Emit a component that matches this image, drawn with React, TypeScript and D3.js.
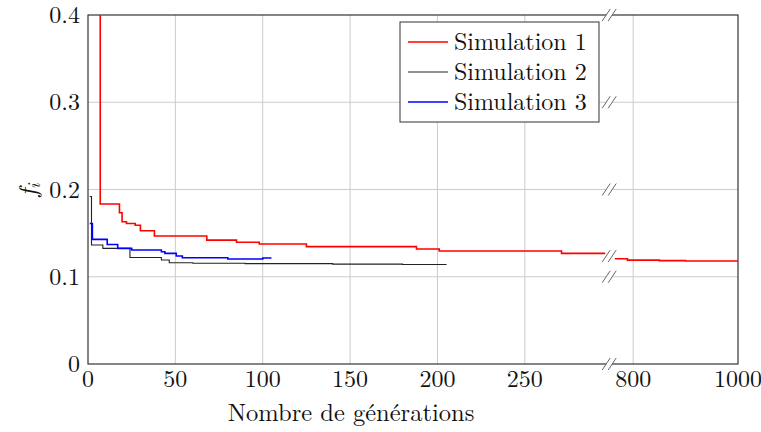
import React from "react";
import * as d3 from "d3";

const W = 761;
const H = 432;

// x axis with break: [0,300] then [760,1000]
const xBreakLo = 300;
const xBreakHi = 760;
const xTicks = [0, 50, 100, 150, 200, 250, 800, 1000];
const yTicks = [0, 0.1, 0.2, 0.3, 0.4];
const yTickLabels = ["0", "0.1", "0.2", "0.3", "0.4"];

const seriesNames = ["Simulation 1", "Simulation 2", "Simulation 3"];
const seriesColors = ["#ff0000", "#222222", "#0000ff"];
const seriesWidths = [1.6, 1.1, 1.6];

// Simulation 1, before the axis break
const sim1LeftGen = [7, 7, 18, 19.5, 22, 27, 30, 38, 68, 85, 98, 125, 188, 201, 271, 296];
const sim1LeftVal = [0.5, 0.1834, 0.1734, 0.163, 0.161, 0.159, 0.1528, 0.1467, 0.142, 0.1395, 0.1375, 0.1345, 0.1318, 0.1295, 0.1268, 0.1268];
// Simulation 1, after the axis break
const sim1RightGen = [765, 789, 850, 900, 1000];
const sim1RightVal = [0.1206, 0.119, 0.1185, 0.118, 0.1177];

const sim2Gen = [1, 2, 8.5, 24, 42, 46.5, 60, 90, 140, 180, 205];
const sim2Val = [0.192, 0.1364, 0.1325, 0.122, 0.1192, 0.1161, 0.1155, 0.115, 0.1145, 0.114, 0.1138];

const sim3Gen = [1, 2.5, 11, 17, 25, 42, 44, 50.5, 54, 80, 100, 105];
const sim3Val = [0.161, 0.1428, 0.137, 0.1325, 0.1307, 0.1287, 0.1268, 0.1238, 0.1218, 0.1203, 0.1215, 0.1215];

const FONT = "Latin Modern Roman, Liberation Serif, serif";

export default function App() {
  const left = 88, right = 738, top = 15, bottom = 364;
  const leftWidth = (right - left) * (300 / 372);
  const xs = d3
    .scaleLinear()
    .domain([0, xBreakLo, xBreakHi, 1000])
    .range([left, left + leftWidth, left + leftWidth, right]);
  const ys = d3.scaleLinear().domain([0, 0.4]).range([bottom, top]);
  const breakX = left + leftWidth - 3;

  const zip = (g: number[], v: number[]) => g.map((x, i) => [x, v[i]] as [number, number]);
  const line = d3
    .line<[number, number]>()
    .x((d) => xs(d[0]))
    .y((d) => ys(d[1]))
    .curve(d3.curveStepAfter);

  const paths = [
    { d: line(zip(sim1LeftGen, sim1LeftVal)), s: 0 },
    { d: line(zip(sim1RightGen, sim1RightVal)), s: 0 },
    { d: line(zip(sim2Gen, sim2Val)), s: 1 },
    { d: line(zip(sim3Gen, sim3Val)), s: 2 },
  ];

  const gridX = xTicks.filter((t) => t !== 0 && t !== 1000);
  const gridY = yTicks.filter((t) => t !== 0 && t !== 0.4);

  const breakYs = [
    ...yTicks.map((t) => ys(t)),
    (ys(sim1LeftVal[sim1LeftVal.length - 1]) + ys(sim1RightVal[0])) / 2,
  ];

  const breakMark = (cy: number, i: number) => {
    const cx = breakX;
    return (
      <g key={"b" + i}>
        <polygon
          points={`${cx - 7},${cy + 6} ${cx + 1},${cy - 6} ${cx + 7},${cy - 6} ${cx - 1},${cy + 6}`}
          fill="#fff"
        />
        <line x1={cx - 7} y1={cy + 6} x2={cx + 1} y2={cy - 6} stroke="#555" strokeWidth={0.9} />
        <line x1={cx - 1} y1={cy + 6} x2={cx + 7} y2={cy - 6} stroke="#555" strokeWidth={0.9} />
      </g>
    );
  };

  const legX = 400, legY = 22, legW = 199, legH = 100;
  const ts = { fontFamily: FONT };

  return (
    <svg width={W} height={H} style={{ position: "absolute", left: 0, top: 0, fontFamily: FONT }}>
      <rect width={W} height={H} fill="#fff" />
      <defs>
        <clipPath id="plot">
          <rect x={left} y={top} width={right - left} height={bottom - top} />
        </clipPath>
      </defs>
      {gridX.map((t) => (
        <line key={"gx" + t} x1={xs(t)} x2={xs(t)} y1={top} y2={bottom} stroke="#cccccc" strokeWidth={1} />
      ))}
      {gridY.map((t) => (
        <line key={"gy" + t} x1={left} x2={right} y1={ys(t)} y2={ys(t)} stroke="#cccccc" strokeWidth={1} />
      ))}
      <rect x={left} y={top} width={right - left} height={bottom - top} fill="none" stroke="#222" strokeWidth={1.1} />
      <g clipPath="url(#plot)">
        {paths.map((p, i) => (
          <path key={i} d={p.d || ""} fill="none" stroke={seriesColors[p.s]} strokeWidth={seriesWidths[p.s]} />
        ))}
      </g>
      {breakYs.map((cy, i) => breakMark(cy, i))}
      {xTicks.map((t) => (
        <text key={"xt" + t} x={xs(t)} y={bottom + 23} textAnchor="middle" fontSize={24} fill="#111" style={ts}>
          {t}
        </text>
      ))}
      {yTicks.map((t, i) => (
        <text key={"yt" + t} x={left - 8} y={ys(t) + 8} textAnchor="end" fontSize={24} fill="#111" style={ts}>
          {yTickLabels[i]}
        </text>
      ))}
      <text x={351} y={421} textAnchor="middle" fontSize={24.5} fill="#111" style={ts}>
        Nombre de générations
      </text>
      <text transform={`translate(36,190) rotate(-90)`} textAnchor="middle" fontSize={25} fontStyle="italic" fill="#111" style={ts}>
        f<tspan fontSize={17} dy={4}>i</tspan>
      </text>
      <rect x={legX} y={legY} width={legW} height={legH} fill="#fff" stroke="#333" strokeWidth={1} />
      {seriesNames.map((n, i) => (
        <g key={n}>
          <line
            x1={legX + 8}
            x2={legX + 48}
            y1={legY + 20 + i * 30}
            y2={legY + 20 + i * 30}
            stroke={seriesColors[i]}
            strokeWidth={seriesWidths[i]}
          />
          <text x={legX + 54} y={legY + 28 + i * 30} fontSize={24} fill="#111" style={ts}>
            {n}
          </text>
        </g>
      ))}
    </svg>
  );
}
